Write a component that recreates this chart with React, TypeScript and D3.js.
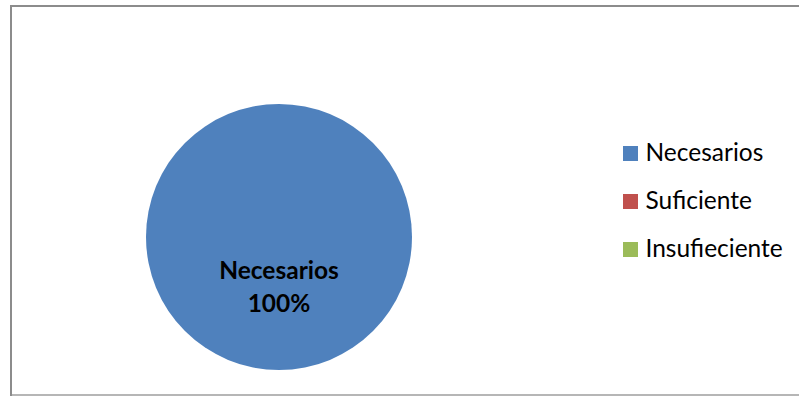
import React from "react";
import * as d3 from "d3";

const categories = ["Necesarios", "Suficiente", "Insufieciente"];
const values = [100, 0, 0];
const colors = ["#4F81BD", "#C0504D", "#9BBB59"];

export default function App() {
  const W = 799, H = 396;
  const cx = 279, cy = 237, r = 133;
  const data = categories.map((c, i) => ({ c, v: values[i], col: colors[i] }));
  const pie = d3.pie<any>().value((d) => d.v).sort(null);
  const arcs = pie(data);
  const arc = d3.arc<any>().innerRadius(0).outerRadius(r);
  const total = d3.sum(values);
  const legendY = d3.scalePoint<string>().domain(categories).range([161, 257]);
  return (
    <svg width={W} height={H} style={{ position: "absolute", left: 0, top: 0 }}>
      <rect x={0} y={0} width={W} height={H} fill="#fff" />
      <rect x={11} y={6} width={W} height={H - 7} fill="#fff" stroke="#8c8c8c" strokeWidth={2} />
      <line x1={12} x2={W} y1={395} y2={395} stroke="#e0e0e0" strokeWidth={1} />
      <g transform={`translate(${cx},${cy})`}>
        {arcs.filter((a) => a.data.v > 0).map((a, i) =>
          a.endAngle - a.startAngle >= 2 * Math.PI - 1e-6 ? (
            <circle key={i} r={r} fill={a.data.col} />
          ) : (
            <path key={i} d={arc(a) as string} fill={a.data.col} />
          )
        )}
        {arcs.filter((a) => a.data.v > 0).map((a, i) => {
          const full = a.endAngle - a.startAngle >= 2 * Math.PI - 1e-6;
          const [lx, ly] = full ? [0, 42] : arc.centroid(a);
          return (
            <text key={i} x={lx} y={ly} textAnchor="middle" fontFamily="Lato, 'Open Sans', sans-serif" fontWeight="bold" fontSize={24.5} fill="#000">
              <tspan x={lx} y={ly}>{a.data.c}</tspan>
              <tspan x={lx} y={ly + 33}>{Math.round((a.data.v / total) * 100)}%</tspan>
            </text>
          );
        })}
      </g>
      {categories.map((c, i) => (
        <g key={c} transform={`translate(623,${legendY(c)})`}>
          <rect x={0} y={-15} width={15} height={15} fill={colors[i]} />
          <text x={22.5} y={0} fontFamily="Lato, 'Open Sans', sans-serif" fontSize={24.5} fill="#000">{c}</text>
        </g>
      ))}
    </svg>
  );
}
